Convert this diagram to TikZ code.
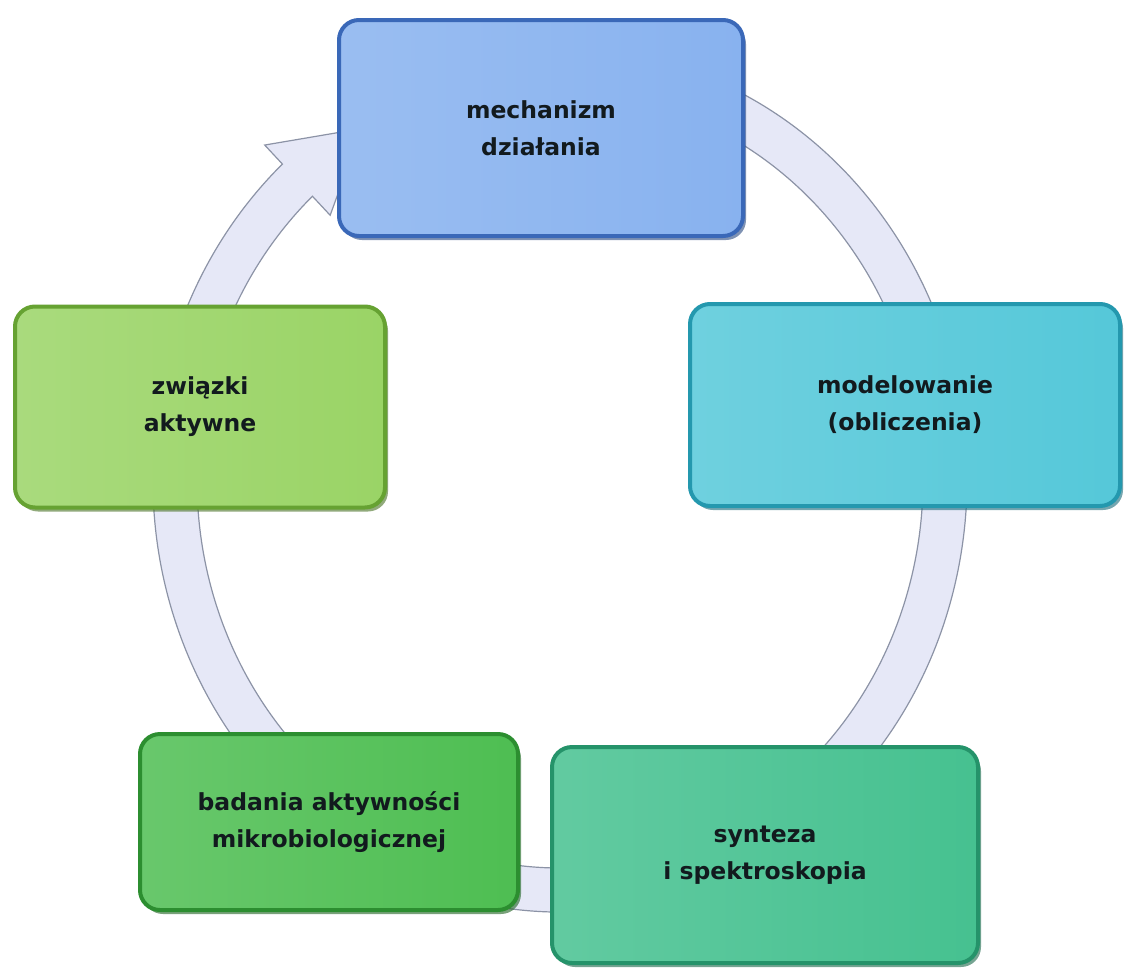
\documentclass[tikz,border=0pt]{standalone}
\usepackage{fontspec}
\setmainfont{DejaVu Sans}
\usepackage{tikz}
\usetikzlibrary{shadows}
\definecolor{ringfill}{HTML}{E6E8F7}
\definecolor{ringline}{HTML}{8C93A6}
\definecolor{mechfill}{HTML}{88B2EF}
\definecolor{mechline}{HTML}{3A68B8}
\definecolor{modfill}{HTML}{55C8D9}
\definecolor{modline}{HTML}{2498AE}
\definecolor{synfill}{HTML}{46C190}
\definecolor{synline}{HTML}{25936A}
\definecolor{badfill}{HTML}{4EBE52}
\definecolor{badline}{HTML}{2C8E30}
\definecolor{zwifill}{HTML}{9AD466}
\definecolor{zwiline}{HTML}{66A232}
\definecolor{textdark}{HTML}{121A1E}

\begin{document}
\begin{tikzpicture}[x=1pt,y=-1pt,
  box/.style 2 args={rectangle,rounded corners=20pt,draw=#2,line width=4pt,
    left color=#1!85!white,right color=#1,
    drop shadow={shadow xshift=3pt,shadow yshift=-4pt,fill=#2!70!black,opacity=0.6},
    text=textdark,align=center,font=\bfseries\fontsize{23.5}{37}\selectfont}]
\useasboundingbox (0,0) rectangle (1127,975);
% ring with arrow head
\filldraw[ringfill,draw=ringline,line width=1.2pt,shift={(560,480)}]
  (280:407 and 432) arc[start angle=280,end angle=587,x radius=407,y radius=432]
  -- (587:433 and 458) -- (599:385 and 410) -- (587:337 and 362)
  -- (587:363 and 388) arc[start angle=587,end angle=280,x radius=363,y radius=388] -- cycle;
% boxes
\node[box={mechfill}{mechline},minimum width=404pt,minimum height=216pt] (mech) at (541,128) {mechanizm\\działania};
\node[box={modfill}{modline},minimum width=430pt,minimum height=202pt] (model) at (905,405) {modelowanie\\(obliczenia)};
\node[box={synfill}{synline},minimum width=426pt,minimum height=216pt] (synt) at (765,855) {synteza\\i spektroskopia};
\node[box={badfill}{badline},minimum width=378pt,minimum height=176pt] (bad) at (329,822) {badania aktywności\\mikrobiologicznej};
\node[box={zwifill}{zwiline},minimum width=370pt,minimum height=201pt] (zwi) at (200,407) {związki\\aktywne};
\end{tikzpicture}
\end{document}
